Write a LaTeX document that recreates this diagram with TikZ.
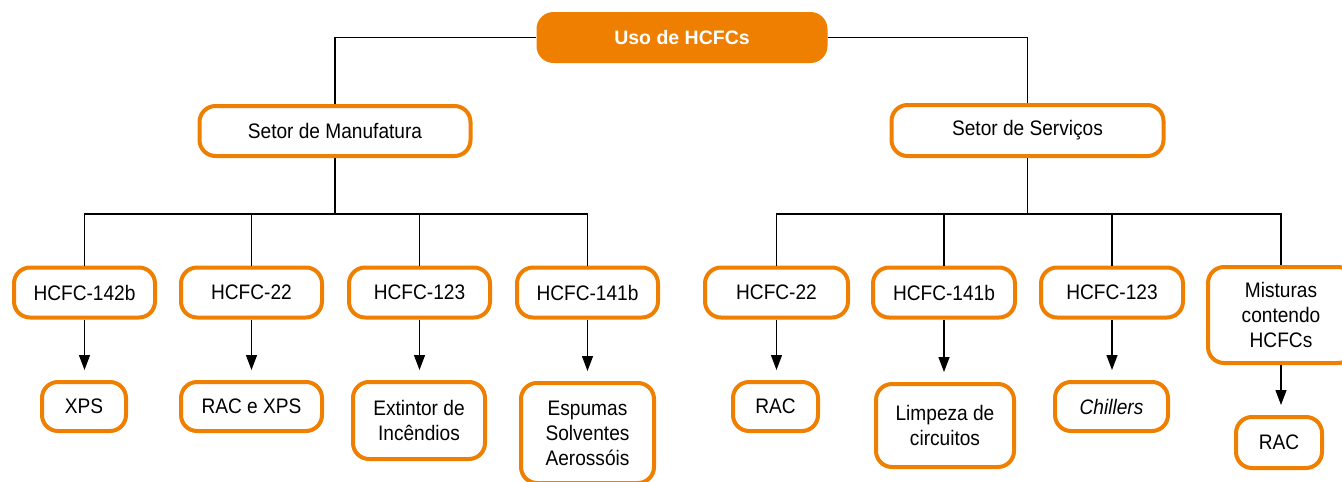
\documentclass[tikz,border=0pt]{standalone}
\usepackage{fontspec}
\setmainfont{Liberation Sans}
\newfontfamily\nfont{Liberation Sans}[FakeStretch=0.91]
\newfontfamily\tfont{Liberation Sans}
\usetikzlibrary{arrows.meta}
\definecolor{hcor}{RGB}{239,127,0}
\begin{document}
\begin{tikzpicture}[x=1pt,y=-1pt,
  box/.style={draw=hcor, line width=4pt, rounded corners=16pt, fill=white,
    align=center, inner sep=0pt, font=\nfont\fontsize{21}{25}\selectfont},
  topbox/.style={fill=hcor, rounded corners=17pt, inner sep=0pt,
    text=white, font=\tfont\bfseries\fontsize{19.5}{23}\selectfont},
  conn/.style={draw=black, line width=1.3pt},
  arr/.style={conn, -{Triangle[length=15pt,width=11pt]}, shorten >=10pt}
]
\useasboundingbox (0,0) rectangle (1342,482);
\clip (0,0) rectangle (1342,482);

% top
\node[topbox, minimum width=291pt, minimum height=51pt] (top) at (682,37.5) {Uso de HCFCs};

% sectors
\node[box, minimum width=271pt, minimum height=50pt] (manu) at (335,131) {Setor de Manufatura};
\node[box, minimum width=272pt, minimum height=51pt] (serv) at (1027.5,130.5) {Setor de Serviços};

% left HCFC row
\node[box, minimum width=141pt, minimum height=50pt] (l1) at (84.5,292.5) {HCFC-142b};
\node[box, minimum width=141pt, minimum height=50pt] (l2) at (251.5,292.5) {HCFC-22};
\node[box, minimum width=141pt, minimum height=50pt] (l3) at (419.5,292.5) {HCFC-123};
\node[box, minimum width=141pt, minimum height=50pt] (l4) at (587.5,292.5) {HCFC-141b};

% right HCFC row
\node[box, minimum width=143pt, minimum height=50pt] (r1) at (776.5,292.5) {HCFC-22};
\node[box, minimum width=142pt, minimum height=50pt] (r2) at (944,292.5) {HCFC-141b};
\node[box, minimum width=142pt, minimum height=50pt] (r3) at (1112,292.5) {HCFC-123};
\node[box, minimum width=146pt, minimum height=96pt] (r4) at (1281,315) {Misturas\\contendo\\HCFCs};

% left bottom row
\node[box, minimum width=84pt, minimum height=49pt] (b1) at (84,406.5) {XPS};
\node[box, minimum width=141pt, minimum height=49pt] (b2) at (251.5,406.5) {RAC e XPS};
\node[box, minimum width=132pt, minimum height=77pt] (b3) at (419,420.5) {Extintor de\\Incêndios};
\node[box, minimum width=133pt, minimum height=100pt] (b4) at (587.5,433) {Espumas\\Solventes\\Aerossóis};

% right bottom row
\node[box, minimum width=85pt, minimum height=49pt] (c1) at (775.5,406.5) {RAC};
\node[box, minimum width=138pt, minimum height=83pt] (c2) at (945,425.5) {Limpeza de\\circuitos};
\node[box, minimum width=113pt, minimum height=49pt] (c3) at (1111.5,406.5) {\itshape Chillers};
\node[box, minimum width=86pt, minimum height=51pt] (c4) at (1279,442.5) {RAC};

% top connectors
\draw[conn] (top.west) -| (manu.north);
\draw[conn] (top.east) -| (serv.north);

% buses
\coordinate (mbus) at (335,214);
\coordinate (sbus) at (1027.5,214);
\draw[conn] (manu.south) -- (mbus);
\draw[conn] (l1.north) -- (l1.north |- mbus) -- (l4.north |- mbus) -- (l4.north);
\draw[conn] (l2.north) -- (l2.north |- mbus);
\draw[conn] (l3.north) -- (l3.north |- mbus);
\draw[conn] (serv.south) -- (sbus);
\draw[conn] (r1.north) -- (r1.north |- sbus) -- (r4.north |- sbus) -- (r4.north);
\draw[conn] (r2.north) -- (r2.north |- sbus);
\draw[conn] (r3.north) -- (r3.north |- sbus);

% arrows
\draw[arr] (l1.south) -- (l1.south |- b1.north);
\draw[arr] (l2.south) -- (l2.south |- b2.north);
\draw[arr] (l3.south) -- (l3.south |- b3.north);
\draw[arr] (l4.south) -- (l4.south |- b4.north);
\draw[arr] (r1.south) -- (r1.south |- c1.north);
\draw[arr] (r2.south) -- (r2.south |- c2.north);
\draw[arr] (r3.south) -- (r3.south |- c3.north);
\draw[arr] (r4.south) -- (r4.south |- c4.north);
\end{tikzpicture}
\end{document}
